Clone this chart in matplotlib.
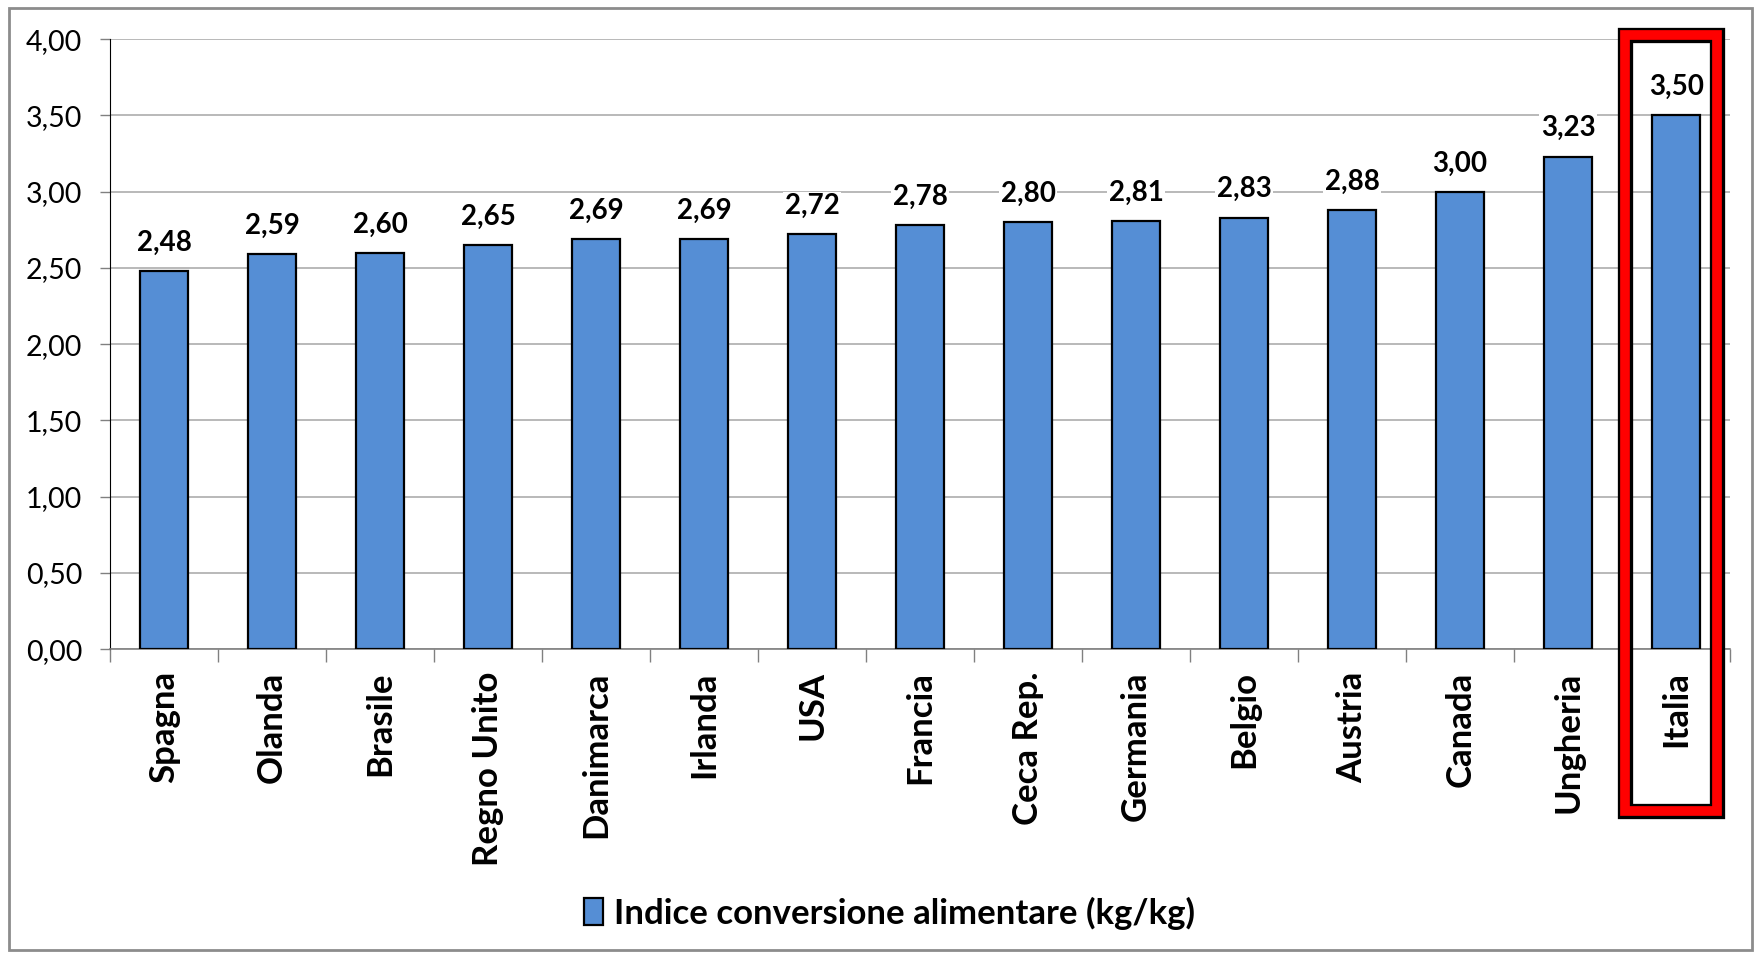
import matplotlib.pyplot as plt
from matplotlib.patches import Rectangle
import numpy as np

paesi = ['Spagna', 'Olanda', 'Brasile', 'Regno Unito', 'Danimarca', 'Irlanda', 'USA',
         'Francia', 'Ceca Rep.', 'Germania', 'Belgio', 'Austria', 'Canada', 'Ungheria', 'Italia']
valori = [2.48, 2.59, 2.60, 2.65, 2.69, 2.69, 2.72, 2.78, 2.80, 2.81, 2.83, 2.88, 3.00, 3.23, 3.50]
etichetta_serie = 'Indice conversione alimentare (kg/kg)'
yticks = [0, 0.5, 1.0, 1.5, 2.0, 2.5, 3.0, 3.5, 4.0]

plt.rcParams['font.family'] = ['Lato', 'DejaVu Sans']

fig = plt.figure(figsize=(17.61, 9.56), dpi=100)
ax = fig.add_axes([0.0625, 0.321, 0.92, 0.638])

x = np.arange(len(paesi))
bars = ax.bar(x, valori, width=0.45, color='#558ED5', edgecolor='black', linewidth=1.6,
              label=etichetta_serie, zorder=3)

for xi, v in zip(x, valori):
    ax.text(xi, v + 0.1, ('%.2f' % v).replace('.', ','), ha='center', va='bottom',
            fontsize=20, fontweight='bold', zorder=4,
            bbox=dict(facecolor='white', edgecolor='none', pad=1))

ax.set_xlim(-0.5, len(paesi) - 0.5)
ax.set_ylim(0, 4)
ax.set_yticks(yticks)
ax.set_yticklabels([('%.2f' % t).replace('.', ',') for t in yticks], fontsize=20.5)
ax.yaxis.grid(True, color='#A6A6A6', linewidth=1.1, zorder=0)
ax.tick_params(axis='y', length=7, width=1, pad=13, color='#808080')

ax.set_xticks(x)
ax.set_xticklabels(paesi, rotation=90, fontsize=25, fontweight='bold', va='top')
ax.set_xticks(np.arange(len(paesi) + 1) - 0.5, minor=True)
ax.tick_params(axis='x', which='major', length=0, pad=16)
ax.tick_params(axis='x', which='minor', length=9, width=1, color='#808080')

for s in ['top', 'right']:
    ax.spines[s].set_visible(False)
ax.spines['left'].set_color('black')
ax.spines['bottom'].set_color('#808080')
ax.spines['bottom'].set_linewidth(1.2)

# riquadro rosso su Italia
for col, lw in [('black', 11), ('red', 7)]:
    ax.add_patch(Rectangle((13.53, -1.06), 0.85, 5.09, fill=False, edgecolor=col,
                           linewidth=lw, clip_on=False, zorder=5, joinstyle='miter'))

leg = fig.legend(handles=[bars], labels=[etichetta_serie], loc='center',
                 bbox_to_anchor=(0.505, 0.045), frameon=False, handlelength=0.55,
                 handleheight=0.8, handletextpad=0.3,
                 prop={'size': 25, 'weight': 'bold'})

# bordo esterno grigio
fig.patches.append(Rectangle((0.005, 0.006), 0.99, 0.986, transform=fig.transFigure,
                             fill=False, edgecolor='#8C8C8C', linewidth=2))

plt.savefig('out.png', dpi=100)
